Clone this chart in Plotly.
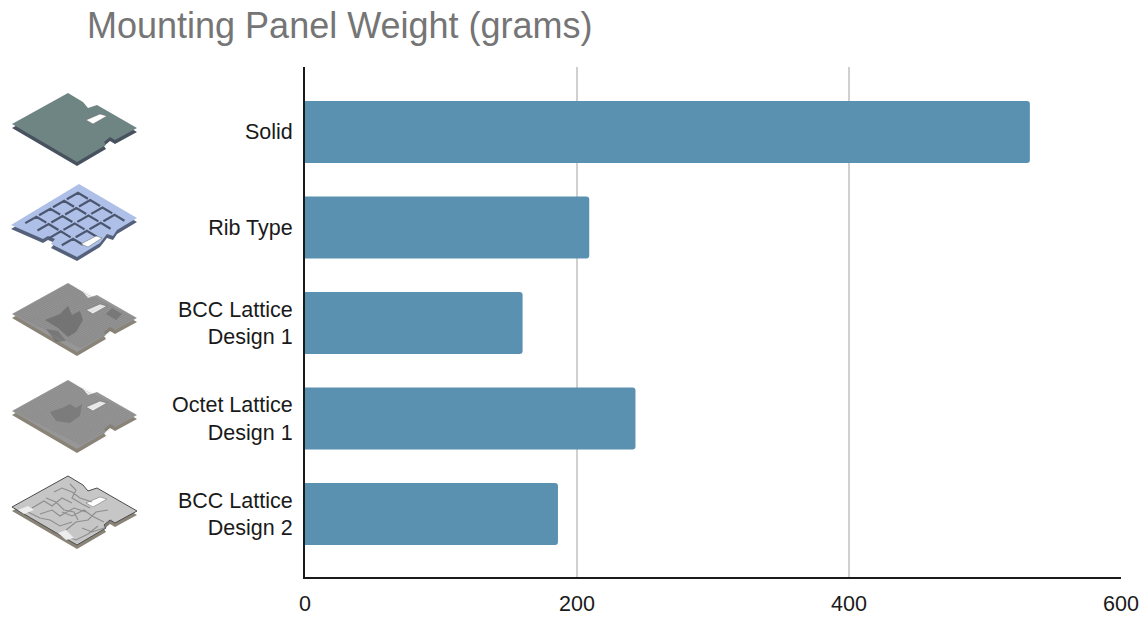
import plotly.graph_objects as go

categories = ["Solid", "Rib Type", "BCC Lattice<br>Design 1", "Octet Lattice<br>Design 1", "BCC Lattice<br>Design 2"]
weights = [533, 209, 160, 243, 186]
x_ticks = [0, 200, 400, 600]

W, H = 1146, 618
LEFT, RIGHT, TOP, BOTTOM = 305, 1121, 67, 577

# thumbnail outlines, in pixels of the picture
PLATE = [(12, 124), (68, 93), (83, 102), (88, 108), (97, 105), (137, 128), (115, 140), (110, 137),
         (104, 142), (106, 145), (77, 162)]
SLOT = [(86, 120), (100, 114), (107, 116), (93, 124)]
RIB = [(11, 225), (79, 184), (137, 218), (117, 230), (113, 236), (107, 234), (100, 243), (77, 257),
       (51, 244), (55, 239), (48, 236), (43, 239)]
RIB_SLOT = [(81, 244), (96, 236), (102, 238), (88, 247)]


def px(x, y):
    return (x - LEFT) / (RIGHT - LEFT), (BOTTOM - y) / (BOTTOM - TOP)


def path(points, close=True):
    parts = []
    for i, (x, y) in enumerate(points):
        xp, yp = px(x, y)
        parts.append(("M" if i == 0 else "L") + f"{xp:.5f},{yp:.5f}")
    return " ".join(parts) + (" Z" if close else "")


def poly(points, fill, line=None, width=0, opacity=1):
    return dict(type="path", xref="paper", yref="paper", path=path(points), fillcolor=fill, opacity=opacity,
                line=dict(color=line or fill, width=width), layer="above")


def strokes(lines, color, width, opacity=1):
    d = " ".join(path(pts, close=False) for pts in lines)
    return dict(type="path", xref="paper", yref="paper", path=d, opacity=opacity,
                line=dict(color=color, width=width), layer="above")


def shifted(points, dy, dx=0):
    return [(x + dx, y + dy) for x, y in points]


def plate(dy, top, side, edge=None):
    # side wall first, then the top face and the slot
    out = [poly(shifted(PLATE, dy + 4), side), poly(shifted(PLATE, dy), top, edge, 1 if edge else 0)]
    out.append(poly(shifted(SLOT, dy), "white", "#666666", 0.5))
    return out


def grid(dy, color, opacity, n=30):
    # fine lattice lines along both plate directions
    t, r, l = (68, 93 + dy), (137, 128 + dy), (12, 124 + dy)
    lines = []
    for i in range(1, n):
        f = i / n
        a = (t[0] + (l[0] - t[0]) * f, t[1] + (l[1] - t[1]) * f)
        lines.append([a, (a[0] + r[0] - t[0], a[1] + r[1] - t[1])])
        b = (t[0] + (r[0] - t[0]) * f, t[1] + (r[1] - t[1]) * f)
        lines.append([b, (b[0] + l[0] - t[0], b[1] + l[1] - t[1])])
    return strokes(lines, color, 0.4, opacity)


def rib_point(u, v):
    tx, ty = 79, 184
    return (tx + 58 * u - 66 * v, ty + 35 * u + 38 * v)


shapes = []

# solid
shapes += plate(0, "#6f8583", "#47525e")

# rib type: chevron pockets peaking towards the far corner
shapes.append(poly(shifted(RIB, 4), "#55607a"))
shapes.append(poly(RIB, "#aebfe8"))
chevrons = []
for u in [0.12, 0.33, 0.54, 0.75]:
    for v in [0.12, 0.33, 0.54, 0.75]:
        chevrons.append([rib_point(u + 0.17, v), rib_point(u, v), rib_point(u, v + 0.17)])
shapes.append(strokes(chevrons, "#4b566f", 2.2))
shapes.append(poly(RIB_SLOT, "white", "#666666", 0.5))

# bcc lattice 1
shapes += plate(190, "#979797", "#8a8378")
shapes.append(poly([(45, 320), (60, 314), (68, 306), (72, 315), (80, 311), (83, 320), (76, 332), (68, 337),
                    (58, 328)], "#5c5c5c", opacity=0.55))
shapes.append(poly([(46, 329), (58, 331), (66, 341), (56, 342)], "#5c5c5c", opacity=0.45))
shapes.append(poly([(112, 308), (122, 314), (116, 320), (106, 314)], "#5c5c5c", opacity=0.45))
shapes.append(grid(190, "#6a6a6a", 0.5))

# octet lattice 1
shapes += plate(287, "#979797", "#8a8378")
shapes.append(poly([(50, 412), (62, 408), (70, 404), (76, 408), (82, 404), (80, 416), (70, 423), (56, 421)],
                   "#5c5c5c", opacity=0.4))
shapes.append(grid(287, "#707070", 0.45))

# bcc lattice 2
shapes += plate(383, "#c6c6c6", "#8a8378", "#4d4d4d")
mottle = [
    [(32, 508), (44, 501), (52, 506), (62, 498), (72, 503)], [(40, 514), (52, 510), (60, 516), (74, 508), (86, 512)],
    [(28, 512), (40, 518), (50, 520), (60, 526), (72, 522)], [(54, 492), (62, 488), (72, 492), (80, 498), (92, 502)],
    [(66, 530), (76, 522), (88, 520), (96, 512), (108, 510)], [(62, 512), (72, 516), (84, 510), (92, 516), (104, 522)],
    [(52, 532), (66, 536), (76, 540), (88, 534), (98, 526)], [(82, 528), (92, 532), (104, 528), (112, 520)],
    [(46, 498), (56, 502), (64, 510), (74, 512), (78, 520)], [(70, 484), (76, 490), (72, 498), (82, 504), (90, 508)],
]
shapes.append(strokes(mottle, "#777777", 1.1, 0.7))
shapes.append(poly([(58, 533), (66, 530), (74, 538), (66, 540)], "#ededed"))
shapes.append(poly([(18, 510), (28, 506), (34, 510), (24, 514)], "#ededed"))

fig = go.Figure(go.Bar(
    x=weights, y=categories, orientation="h", width=0.65,
    marker=dict(color="#5a91b0", line=dict(width=0)),
))

fig.update_layout(
    width=W, height=H,
    margin=dict(l=LEFT, r=W - RIGHT, t=TOP, b=H - BOTTOM, pad=0),
    paper_bgcolor="white", plot_bgcolor="white",
    font=dict(family="Liberation Sans", size=21.5, color="#1a1a1a"),
    title=dict(text="Mounting Panel Weight (grams)", x=87 / W, xanchor="left", xref="container",
               y=1 - 25 / H, yanchor="middle", yref="container",
               font=dict(family="Liberation Sans", size=36, color="#757575")),
    barcornerradius=3,
    showlegend=False,
    shapes=shapes,
)
fig.update_xaxes(range=[0, 600], tickvals=x_ticks, showgrid=True, gridcolor="#d0d0d0", gridwidth=2, automargin=False,
                 showline=True, linecolor="#1a1a1a", linewidth=2, zeroline=False, ticks="", ticklabelstandoff=6)
fig.update_yaxes(range=[4.66, -0.68], showgrid=False, showline=True, linecolor="#1a1a1a", linewidth=2, automargin=False,
                 zeroline=False, ticks="", ticklabelstandoff=6)

fig.write_html("out.html", config={"displayModeBar": False}, post_script="document.body.style.margin = '0';")
